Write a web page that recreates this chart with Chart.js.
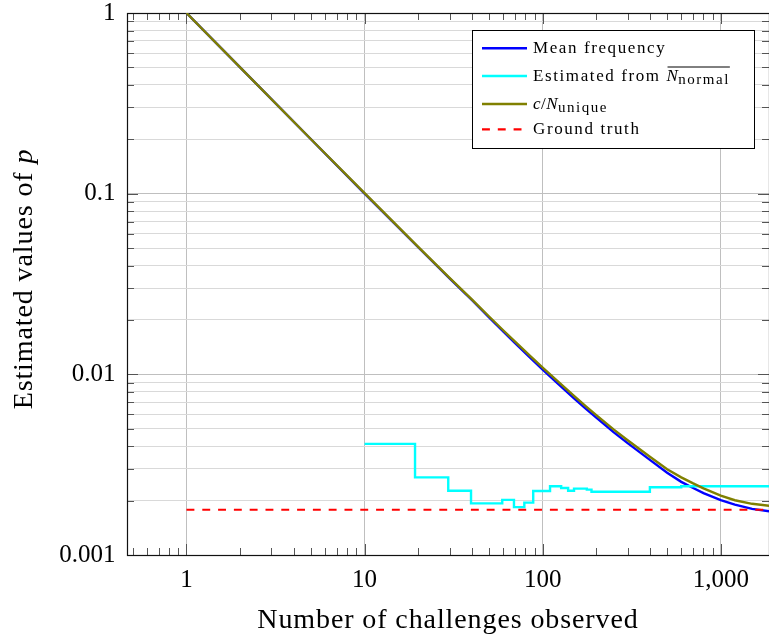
<!DOCTYPE html>
<html><head><meta charset="utf-8">
<script src="https://cdn.jsdelivr.net/npm/chart.js@4/dist/chart.umd.min.js"></script>
<style>html,body{margin:0;padding:0;background:#fff}#wrap{width:769px;height:635px;position:relative}</style>
</head><body><div id="wrap"><canvas id="c" width="769" height="635"></canvas></div>
<script>
// ---- data ----
const challenges = [1, 2, 5, 10, 20, 30, 40, 50, 60, 70, 85, 100, 120, 150, 175, 200, 250, 300, 400, 500, 600, 700, 800, 1000, 1200, 1500, 2000];
const meanFrequency = [1, 0.5, 0.2, 0.1, 0.0505, 0.0340, 0.0258, 0.02069, 0.01728, 0.01487, 0.01236, 0.01062, 0.00899, 0.00737, 0.00644, 0.00576, 0.00479, 0.00416, 0.00336, 0.00285, 0.00254, 0.00235, 0.00220, 0.00201, 0.00190, 0.00180, 0.00173];
const cOverNUnique = [1, 0.5, 0.2, 0.1008, 0.0508, 0.0342, 0.0260, 0.0209, 0.01754, 0.01517, 0.01266, 0.0109, 0.00926, 0.0076, 0.00665, 0.00595, 0.00496, 0.00432, 0.0035, 0.00298, 0.00269, 0.00249, 0.00234, 0.00213, 0.00201, 0.00192, 0.00186];
const normalChallenges = [10, 19.2, 29.5, 39.6, 59.3, 69, 78.9, 88.5, 110, 127, 139, 150, 177, 188, 400, 600, 2000];
const estimatedFromNormal = [0.00412, 0.00269, 0.00227, 0.00193, 0.00202, 0.00184, 0.00195, 0.00226, 0.00240, 0.00235, 0.00227, 0.00233, 0.00230, 0.00224, 0.00237, 0.00240, 0.00240];
const groundTruthX = [1, 2000];
const groundTruth = [0.00178, 0.00178];
const xTickValues = [1, 10, 100, 1000];
const xTickLabels = ['1', '10', '100', '1,000'];
const yTickValues = [0.001, 0.01, 0.1, 1];
const yTickLabels = ['0.001', '0.01', '0.1', '1'];
const xTitle = 'Number of challenges observed';
const yTitleText = 'Estimated values of ';
const yTitleVar = 'p';

const SERIF = '"Liberation Serif", "Times New Roman", serif';
const pts = (xs, ys) => xs.map((x, i) => ({x: x, y: ys[i]}));
const isMajor = v => Math.abs(Math.log10(v) - Math.round(Math.log10(v))) < 1e-6;
function logTicks(min, max) {
  const out = [];
  for (let e = -4; e <= 4; e++) for (let m = 1; m <= 9; m++) {
    const v = Number((m * Math.pow(10, e)).toPrecision(6));
    if (v >= min * 0.99999 && v <= max * 1.00001) out.push(v);
  }
  return out;
}
function labelFor(values, labels, v) {
  const i = values.findIndex(t => Math.abs(t - v) / t < 1e-6);
  return i >= 0 ? labels[i] : '';
}

function runsWidth(ctx, runs) {
  let w = 0;
  runs.forEach(r => { ctx.font = r.font; ctx.letterSpacing = (r.sp || 0) + 'px'; r._w = ctx.measureText(r.t).width; w += r._w; });
  return w;
}
function drawRuns(ctx, runs, x, y) {
  let cx = x;
  let overStart = null, overEnd = null, overY = null;
  runs.forEach(r => {
    ctx.font = r.font; ctx.letterSpacing = (r.sp || 0) + 'px';
    ctx.fillText(r.t, cx, y + (r.dy || 0));
    if (r.over) { if (overStart === null) overStart = cx; overEnd = cx + r._w; overY = y - r.over; }
    cx += r._w;
  });
  if (overStart !== null) {
    ctx.save(); ctx.letterSpacing = '0px'; ctx.strokeStyle = '#000'; ctx.lineWidth = 1;
    ctx.beginPath(); ctx.moveTo(overStart + 1, overY + 0.5); ctx.lineTo(overEnd, overY + 0.5); ctx.stroke(); ctx.restore();
  }
}

const legendEntries = [
  {ds: 3, runs: [{t: 'Mean frequency', font: '17px ' + SERIF, sp: 1.6}]},
  {ds: 2, runs: [{t: 'Estimated from ', font: '17px ' + SERIF, sp: 1.6},
                 {t: 'N', font: 'italic 17px ' + SERIF, sp: 0.5, over: 14},
                 {t: 'normal', font: '15px ' + SERIF, sp: 1.5, dy: 3.5, over: 14}]},
  {ds: 1, runs: [{t: 'c', font: 'italic 17px ' + SERIF, sp: 0.5},
                 {t: '/', font: '17px ' + SERIF, sp: 0.5},
                 {t: 'N', font: 'italic 17px ' + SERIF, sp: 0.5},
                 {t: 'unique', font: '15px ' + SERIF, sp: 1.5, dy: 3.5}]},
  {ds: 0, runs: [{t: 'Ground truth', font: '17px ' + SERIF, sp: 1.6}]}
];

const decor = {
  id: 'decor',
  beforeDatasetsDraw(chart) {
    const ctx = chart.ctx, ca = chart.chartArea, xs = chart.scales.x, ys = chart.scales.y;
    ctx.save();
    ctx.strokeStyle = '#555'; ctx.lineWidth = 1;
    ctx.beginPath();
    xs.ticks.forEach(t => {
      const px = Math.round(xs.getPixelForValue(t.value)) + 0.5;
      const len = isMajor(t.value) ? 11 : 7;
      ctx.moveTo(px, ca.bottom); ctx.lineTo(px, ca.bottom - len);
      ctx.moveTo(px, ca.top); ctx.lineTo(px, ca.top + len);
    });
    ys.ticks.forEach(t => {
      const py = Math.round(ys.getPixelForValue(t.value)) + 0.5;
      const len = isMajor(t.value) ? 11 : 7;
      ctx.moveTo(ca.left, py); ctx.lineTo(ca.left + len, py);
      ctx.moveTo(ca.right, py); ctx.lineTo(ca.right - len, py);
    });
    ctx.stroke();
    ctx.strokeStyle = '#111'; ctx.lineWidth = 1.2;
    ctx.strokeRect(ca.left + 0.5, ca.top + 0.5, ca.right - ca.left, ca.bottom - ca.top);
    ctx.restore();
  },
  afterDraw(chart) {
    const ctx = chart.ctx, ca = chart.chartArea;
    ctx.save();
    ctx.fillStyle = '#000'; ctx.textBaseline = 'alphabetic'; ctx.textAlign = 'left';
    const xr = [{t: xTitle, font: '28px ' + SERIF, sp: 0.9}];
    const xw = runsWidth(ctx, xr);
    drawRuns(ctx, xr, (ca.left + ca.right) / 2 - xw / 2, 628);
    const yr = [{t: yTitleText, font: '28px ' + SERIF, sp: 0.9}, {t: yTitleVar, font: 'italic 28px ' + SERIF, sp: 0.9}];
    const yw = runsWidth(ctx, yr);
    ctx.save(); ctx.translate(31.5, 279); ctx.rotate(-Math.PI / 2);
    drawRuns(ctx, yr, -yw / 2, 0);
    ctx.restore();
    const bx = 472.5, by = 30.5, bw = 282, bh = 118;
    ctx.fillStyle = '#fff'; ctx.fillRect(bx, by, bw, bh);
    ctx.strokeStyle = '#000'; ctx.lineWidth = 1; ctx.strokeRect(bx, by, bw, bh);
    const rowY = [48.3, 76, 104, 129.3];
    legendEntries.forEach((e, i) => {
      const ds = chart.data.datasets[e.ds];
      const cy = rowY[i];
      ctx.save();
      ctx.strokeStyle = ds.borderColor; ctx.lineWidth = ds.borderWidth;
      ctx.setLineDash(ds.borderDash || []);
      ctx.beginPath(); ctx.moveTo(482, cy); ctx.lineTo(527, cy); ctx.stroke();
      ctx.restore();
      ctx.fillStyle = '#000';
      runsWidth(ctx, e.runs);
      drawRuns(ctx, e.runs, 533, cy + 4.5);
    });
    ctx.restore();
  }
};

new Chart(document.getElementById('c'), {
  type: 'scatter',
  data: {
    datasets: [
      {label: 'Ground truth', data: pts(groundTruthX, groundTruth), borderColor: '#ff0000', borderDash: [7.9, 7.9], borderWidth: 2.2},
      {label: 'c/N_unique', data: pts(challenges, cOverNUnique), borderColor: '#808000', borderWidth: 2.4},
      {label: 'Estimated from N_normal', data: pts(normalChallenges, estimatedFromNormal), borderColor: '#00ffff', borderWidth: 2.4, stepped: 'before'},
      {label: 'Mean frequency', data: pts(challenges, meanFrequency), borderColor: '#0000ff', borderWidth: 2.4}
    ].map(d => Object.assign({showLine: true, pointRadius: 0, pointHoverRadius: 0, tension: 0, fill: false, backgroundColor: d.borderColor}, d))
  },
  options: {
    responsive: false, animation: false, events: [],
    layout: {padding: {top: 13, right: 0, bottom: 0, left: 0}},
    plugins: {legend: {display: false}, tooltip: {enabled: false}},
    scales: {
      x: {
        type: 'logarithmic', min: 0.4634, max: 1866,
        afterBuildTicks: s => { s.ticks = logTicks(s.min, s.max).map(v => ({value: v})); },
        afterFit: s => { s.height = 80; s.paddingLeft = 0; s.paddingRight = 0; },
        ticks: {autoSkip: false, maxRotation: 0, minRotation: 0, padding: 10, color: '#000',
                font: {family: SERIF, size: 25},
                callback: v => labelFor(xTickValues, xTickLabels, v)},
        grid: {drawTicks: false, lineWidth: 1, color: c => (c.tick && isMajor(c.tick.value)) ? '#bfbfbf' : 'rgba(0,0,0,0)'},
        border: {display: false}
      },
      y: {
        type: 'logarithmic', min: 0.001, max: 1,
        afterBuildTicks: s => { s.ticks = logTicks(s.min, s.max).map(v => ({value: v})); },
        afterFit: s => { s.width = 127; s.paddingTop = 0; s.paddingBottom = 0; },
        ticks: {autoSkip: false, padding: 11.5, color: '#000',
                font: {family: SERIF, size: 25},
                callback: v => labelFor(yTickValues, yTickLabels, v)},
        grid: {drawTicks: false, lineWidth: 1, color: c => (c.tick && isMajor(c.tick.value)) ? '#bfbfbf' : '#d9d9d9'},
        border: {display: false}
      }
    }
  },
  plugins: [decor]
});
</script></body></html>
